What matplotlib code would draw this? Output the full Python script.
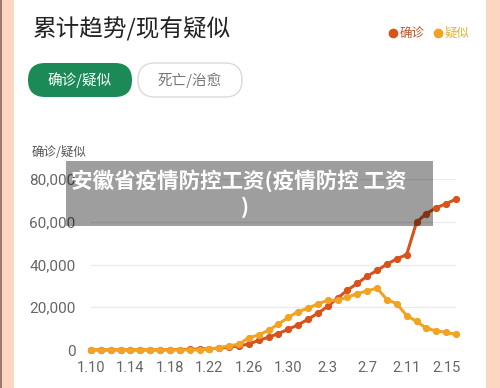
import matplotlib
matplotlib.use("Agg")
import matplotlib.pyplot as plt
from matplotlib.patches import FancyBboxPatch, Rectangle
import numpy as np

plt.rcParams['font.family'] = ['Noto Sans CJK SC', 'DejaVu Sans']

# ---------------- data ----------------
dates = ['1.10', '1.11', '1.12', '1.13', '1.14', '1.15', '1.16', '1.17', '1.18', '1.19',
         '1.20', '1.21', '1.22', '1.23', '1.24', '1.25', '1.26', '1.27', '1.28', '1.29',
         '1.30', '1.31', '2.1', '2.2', '2.3', '2.4', '2.5', '2.6', '2.7', '2.8',
         '2.9', '2.10', '2.11', '2.12', '2.13', '2.14', '2.15', '2.16']
confirmed = [41, 41, 41, 41, 41, 41, 45, 62, 121, 198,
             291, 440, 571, 830, 1287, 1975, 2744, 4515, 5974, 7711,
             9692, 11791, 14380, 17205, 20438, 24324, 28018, 31161, 34546, 37198,
             40171, 42638, 44653, 59804, 63851, 66492, 68500, 70548]
suspected = [0, 0, 0, 0, 0, 0, 0, 0, 0, 0,
             0, 37, 393, 1072, 1965, 2684, 5794, 6973, 9239, 12167,
             15238, 17988, 19544, 21558, 23214, 23260, 24702, 26359, 27657, 28942,
             23589, 21675, 16067, 13435, 10109, 8969, 8228, 7264]
tick_labels = ['1.10', '1.14', '1.18', '1.22', '1.26', '1.30', '2.3', '2.7', '2.11', '2.15']
y_ticks = [0, 20000, 40000, 60000, 80000]
series_names = ['确诊', '疑似']

c_conf = '#D9521C'
c_susp = '#F2A322'

W, H = 500, 388
fig = plt.figure(figsize=(W / 100, H / 100), dpi=100)
fig.patch.set_facecolor('white')

# background decorations axes (pixel coordinates, origin top-left)
bg = fig.add_axes([0, 0, 1, 1], zorder=0)
bg.set_xlim(0, W)
bg.set_ylim(H, 0)
bg.axis('off')
bg.add_patch(Rectangle((0, 0), 14, H, color='#FCD6C0', lw=0))
bg.add_patch(Rectangle((0, 0), 1.5, H, color='#9A7A70', lw=0))
bg.add_patch(Rectangle((486, 0), 14, H, color='#FCD6C0', lw=0))

bg.text(33, 29, '累计趋势/现有疑似', fontsize=17, color='#222222', va='center', ha='left')

bg.add_patch(FancyBboxPatch((28, 63), 104, 34, boxstyle='round,pad=0,rounding_size=17',
                            fc='#1B8A57', ec='none'))
bg.text(80, 80, '确诊/疑似', fontsize=10.5, color='white', ha='center', va='center')
bg.add_patch(FancyBboxPatch((138, 63), 104, 34, boxstyle='round,pad=0,rounding_size=17',
                            fc='white', ec='#DADADA', lw=1))
bg.text(190, 80, '死亡/治愈', fontsize=10.5, color='#777777', ha='center', va='center')

# legend
bg.plot([393], [33], 'o', color=c_conf, ms=6)
bg.text(400, 33, series_names[0], fontsize=9, color='#B8552A', va='center', ha='left')
bg.plot([438], [33], 'o', color=c_susp, ms=6)
bg.text(445, 33, series_names[1], fontsize=9, color='#E2B23A', va='center', ha='left')

bg.text(32, 153, '确诊/疑似', fontsize=9, color='#555555', va='center', ha='left')

# main chart axes
left, right = 91, 456
top, bottom = 179, 350
ax = fig.add_axes([left / W, (H - bottom) / H, (right - left) / W, (bottom - top) / H], zorder=1)
ax.patch.set_alpha(0)
x = np.arange(len(dates))
ax.set_xlim(0, len(dates) - 1)
ax.set_ylim(0, 80000)
for s in ax.spines.values():
    s.set_visible(False)
ax.set_yticks(y_ticks)
ax.set_yticklabels([f'{v:,}' for v in y_ticks], family='Roboto', fontsize=11, color='#666666')
ax.set_xticks([dates.index(t) for t in tick_labels])
ax.set_xticklabels(tick_labels, family='Roboto', fontsize=10.5, color='#666666')
ax.tick_params(axis='both', length=0)
ax.tick_params(axis='y', pad=11)
ax.tick_params(axis='x', pad=8)
ax.grid(axis='y', color='#EBEBEB', lw=1)
ax.set_axisbelow(True)

ax.plot(x, confirmed, '-o', color=c_conf, lw=2.2, ms=4.2, clip_on=False, zorder=3)
ax.plot(x, suspected, '-o', color=c_susp, lw=2.2, ms=4.2, clip_on=False, zorder=4)

# overlay
fg = fig.add_axes([0, 0, 1, 1], zorder=5)
fg.set_xlim(0, W)
fg.set_ylim(H, 0)
fg.axis('off')
fg.patch.set_alpha(0)
fg.add_patch(Rectangle((66, 161), 367, 65, color='black', alpha=0.38, lw=0))
fg.text(239, 181, '安徽省疫情防控工资(疫情防控 工资', fontsize=15.5, fontweight='bold',
        color='white', ha='center', va='center')
fg.text(245, 207, ')', fontsize=15.5, fontweight='bold', color='white', ha='center', va='center')

fig.savefig('out.png', dpi=100)
